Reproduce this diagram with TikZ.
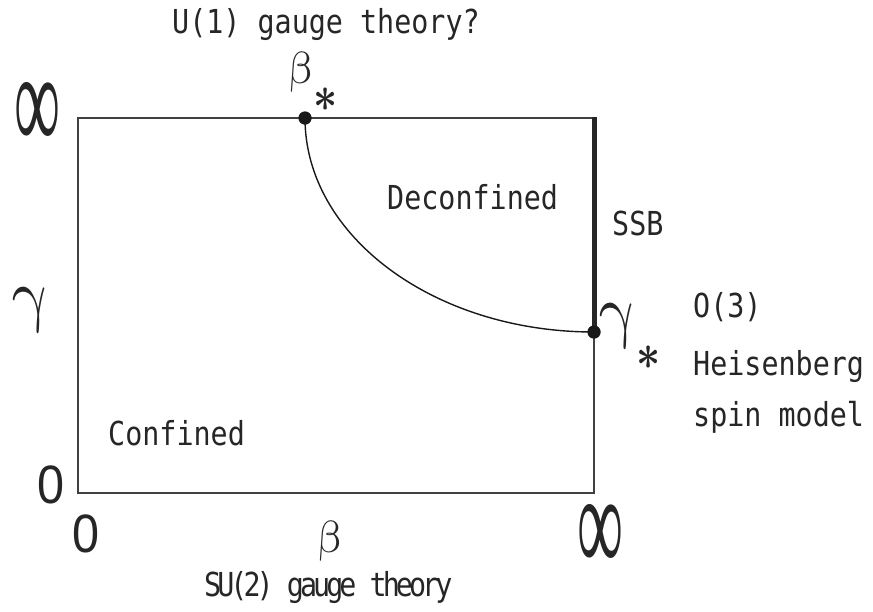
\documentclass[tikz,border=0pt]{standalone}
\usepackage{fontspec}
\usepackage{graphicx}
\newfontfamily\lblfont[FakeStretch=0.86]{DejaVu Sans Mono}
\newfontfamily\lblnarrow[FakeStretch=0.86,LetterSpace=-12]{DejaVu Sans Mono}
\newfontfamily\numfont{Liberation Sans}
\newfontfamily\inffont{Liberation Serif}
\tikzset{
  lbl/.style={inner sep=0pt, font=\lblfont\fontsize{33}{33}\selectfont, text=black!85},
  grk/.style={inner sep=0pt, text=black!85},
  upright/.style={grk, xslant=-0.18},
  frame/.style={line width=1.7pt, draw=black!75},
  ssbline/.style={line width=5pt, draw=black!85, line cap=butt},
  curveline/.style={line width=1.4pt, draw=black!90},
  dotnode/.style={circle, fill=black!90, inner sep=0pt, minimum size=13pt}
}
\newcommand{\zerolbl}{\scalebox{0.9}[1]{\numfont\fontsize{54}{54}\selectfont 0}}
\newcommand{\inflbl}{\resizebox{46pt}{68pt}{\inffont ∞}}
\newcommand{\astlbl}{\scalebox{4.2}[5]{\mathversion{bold}$\ast$}}
\newcommand{\betalbl}{\scalebox{4.5}{$\beta$}}
\newcommand{\gammalbl}{\scalebox{6.4}[7.1]{$\gamma$}}
\begin{document}
\begin{tikzpicture}[x=1pt,y=-1pt]
\useasboundingbox (0,0) rectangle (873,611);
% frame corners
\coordinate (TL) at (78,118);
\coordinate (TR) at (594,118);
\coordinate (BR) at (594,493);
\coordinate (BL) at (78,493);
\draw[frame] (BL) -- (TL) -- (TR) -- (BR) -- cycle;
% critical points
\node[dotnode] (bs) at (305,118) {};
\node[dotnode] (gs) at (594,332) {};
\draw[ssbline] (594,117) -- (gs.center);
\draw[curveline] (bs.center) arc[start angle=180, end angle=90, x radius=289, y radius=214];
\node[dotnode] at (bs.center) {};
\node[dotnode] at (gs.center) {};
% axis labels
\node[grk, anchor=center] (inftop) at (37,116) {\inflbl};
\node[grk, anchor=center] (infright) at (600,538) {\inflbl};
\node[grk, anchor=center] (zeroleft) at (51,485) {\zerolbl};
\node[grk, anchor=center] (zerobot) at (86,534) {\zerolbl};
\node[upright, anchor=base] (gam) at (34,318) {\gammalbl};
\node[upright, anchor=base] (bet) at (331,552) {\betalbl};
% starred labels
\node[upright, anchor=base] (bstarb) at (302,83) {\betalbl};
\node[grk, anchor=center] (bstara) at (326,100) {\astlbl};
\node[upright, anchor=base] (gstarg) at (621,334) {\gammalbl};
\node[grk, anchor=center] (gstara) at (649,358) {\astlbl};
% text labels
\node[lbl, anchor=base west] (u1) at (172,33) {U(1) gauge theory?};
\node[lbl, anchor=base west] (dec) at (387,209) {Deconfined};
\node[lbl, anchor=base west] (ssb) at (612,235) {SSB};
\node[lbl, anchor=base west] (o3) at (693,317) {O(3)};
\node[lbl, anchor=base west] (heis) at (693,375) {Heisenberg};
\node[lbl, anchor=base west] (spin) at (693,426) {spin model};
\node[lbl, anchor=base west] (conf) at (108,445) {Confined};
\node[lbl, anchor=base west, font=\lblnarrow\fontsize{33}{33}\selectfont] (su2) at (204,596) {SU(2) gauge theory};
\end{tikzpicture}
\end{document}
